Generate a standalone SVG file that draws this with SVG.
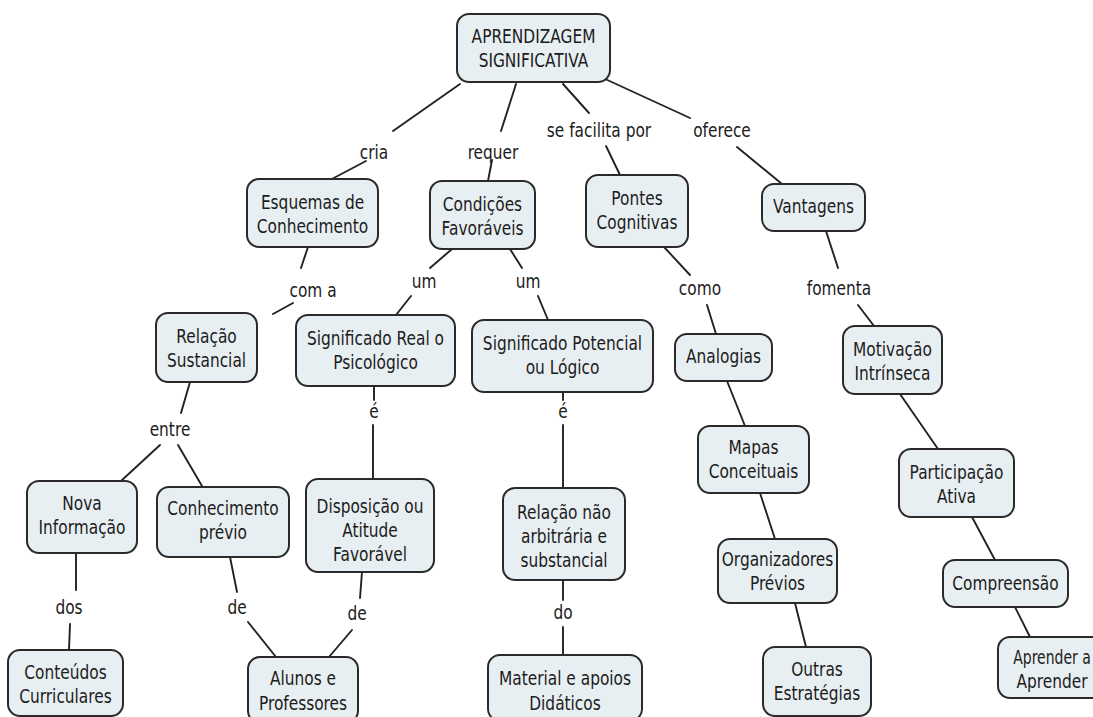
<svg xmlns="http://www.w3.org/2000/svg" width="1093" height="717" viewBox="0 0 1093 717">
  <style>
    .box { fill: #e8eff2; stroke: #2a2a2a; stroke-width: 2; }
    .t { font-family: "DejaVu Sans", Verdana, sans-serif; font-size: 20px; fill: #1c1c1c; text-anchor: middle; }
    .link { stroke: #222; stroke-width: 1.9; fill: none; stroke-linecap: round; }
  </style>
  <rect width="1093" height="717" fill="#ffffff"/>

  <g id="connectors">
    <!-- root branches -->
    <path class="link" d="M460,84 L393,131 M366,161 L330,180"/>
    <path class="link" d="M516,84 L501,131 M492,160 L488,181"/>
    <path class="link" d="M563,84 L589,113 M606,146 L620,175"/>
    <path class="link" d="M603,78 L690,118 M737,147 L782,184"/>
    <!-- esquemas -> relacao -->
    <path class="link" d="M308,247 L301,268 M293,303 L273,314"/>
    <!-- condicoes -> significados -->
    <path class="link" d="M452,249 L430,268 M411,296 L396,315"/>
    <path class="link" d="M510,249 L522,268 M538,296 L548,320"/>
    <!-- pontes -> analogias -->
    <path class="link" d="M664,247 L690,275 M707,305 L716,334"/>
    <!-- vantagens -> motivacao -->
    <path class="link" d="M826,231 L838,268 M858,305 L874,326"/>
    <!-- relacao -> entre -->
    <path class="link" d="M190,382 L181,413 M160,445 L121,481 M178,445 L202,486"/>
    <!-- significado real -> disposicao -->
    <path class="link" d="M374,386 L374,400 M373,425 L373,479"/>
    <!-- significado potencial -> relacao nao arbitraria -->
    <path class="link" d="M563,392 L563,400 M563,425 L563,488"/>
    <!-- nova informacao -> conteudos -->
    <path class="link" d="M76,553 L76,590 M70,624 L69,650"/>
    <!-- conhecimento previo / disposicao -> alunos -->
    <path class="link" d="M230,557 L237,592 M248,622 L276,657"/>
    <path class="link" d="M362,572 L360,598 M352,630 L329,657"/>
    <!-- relacao nao arbitraria -> material -->
    <path class="link" d="M563,580 L563,600 M563,627 L563,655"/>
    <!-- chains without labels -->
    <path class="link" d="M727,381 L745,426"/>
    <path class="link" d="M760,493 L775,539"/>
    <path class="link" d="M795,603 L806,647"/>
    <path class="link" d="M900,394 L938,449"/>
    <path class="link" d="M972,517 L995,560"/>
    <path class="link" d="M1015,607 L1030,637"/>
  </g>

  <g id="labels">
    <text class="t" transform="translate(374,0) scale(0.77 1)"><tspan x="0" y="159">cria</tspan></text>
    <text class="t" transform="translate(493,0) scale(0.77 1)"><tspan x="0" y="159">requer</tspan></text>
    <text class="t" transform="translate(599,0) scale(0.77 1)"><tspan x="0" y="137">se facilita por</tspan></text>
    <text class="t" transform="translate(722,0) scale(0.77 1)"><tspan x="0" y="137">oferece</tspan></text>
    <text class="t" transform="translate(313,0) scale(0.77 1)"><tspan x="0" y="297">com a</tspan></text>
    <text class="t" transform="translate(424,0) scale(0.77 1)"><tspan x="0" y="288">um</tspan></text>
    <text class="t" transform="translate(528,0) scale(0.77 1)"><tspan x="0" y="288">um</tspan></text>
    <text class="t" transform="translate(700,0) scale(0.77 1)"><tspan x="0" y="295">como</tspan></text>
    <text class="t" transform="translate(839,0) scale(0.77 1)"><tspan x="0" y="295">fomenta</tspan></text>
    <text class="t" transform="translate(170,0) scale(0.77 1)"><tspan x="0" y="436">entre</tspan></text>
    <text class="t" transform="translate(374,0) scale(0.77 1)"><tspan x="0" y="418">é</tspan></text>
    <text class="t" transform="translate(563,0) scale(0.77 1)"><tspan x="0" y="418">é</tspan></text>
    <text class="t" transform="translate(69,0) scale(0.77 1)"><tspan x="0" y="614">dos</tspan></text>
    <text class="t" transform="translate(237,0) scale(0.77 1)"><tspan x="0" y="614">de</tspan></text>
    <text class="t" transform="translate(357,0) scale(0.77 1)"><tspan x="0" y="620">de</tspan></text>
    <text class="t" transform="translate(563,0) scale(0.77 1)"><tspan x="0" y="619">do</tspan></text>
  </g>

  <g id="n-root">
    <rect class="box" x="457" y="14" width="153" height="68" rx="12"/>
    <text class="t" transform="translate(533.5,0) scale(0.77 1)"><tspan x="0" y="43">APRENDIZAGEM</tspan><tspan x="0" y="67">SIGNIFICATIVA</tspan></text>
  </g>
  <g id="n-esquemas">
    <rect class="box" x="247" y="179" width="131" height="68" rx="12"/>
    <text class="t" transform="translate(312.5,0) scale(0.77 1)"><tspan x="0" y="209">Esquemas de</tspan><tspan x="0" y="233">Conhecimento</tspan></text>
  </g>
  <g id="n-condicoes">
    <rect class="box" x="430" y="181" width="105" height="68" rx="12"/>
    <text class="t" transform="translate(482.5,0) scale(0.77 1)"><tspan x="0" y="211">Condições</tspan><tspan x="0" y="235">Favoráveis</tspan></text>
  </g>
  <g id="n-pontes">
    <rect class="box" x="586" y="175" width="102" height="72" rx="12"/>
    <text class="t" transform="translate(637,0) scale(0.77 1)"><tspan x="0" y="205">Pontes</tspan><tspan x="0" y="229">Cognitivas</tspan></text>
  </g>
  <g id="n-vantagens">
    <rect class="box" x="762" y="184" width="103" height="47" rx="12"/>
    <text class="t" transform="translate(813.5,0) scale(0.77 1)"><tspan x="0" y="213">Vantagens</tspan></text>
  </g>
  <g id="n-relacao">
    <rect class="box" x="156" y="313" width="101" height="69" rx="12"/>
    <text class="t" transform="translate(206.5,0) scale(0.77 1)"><tspan x="0" y="343">Relação</tspan><tspan x="0" y="367">Sustancial</tspan></text>
  </g>
  <g id="n-sig-real">
    <rect class="box" x="296" y="315" width="159" height="71" rx="12"/>
    <text class="t" transform="translate(375.5,0) scale(0.77 1)"><tspan x="0" y="345">Significado Real o</tspan><tspan x="0" y="369">Psicológico</tspan></text>
  </g>
  <g id="n-sig-pot">
    <rect class="box" x="472" y="320" width="181" height="72" rx="12"/>
    <text class="t" transform="translate(562.5,0) scale(0.77 1)"><tspan x="0" y="350">Significado Potencial</tspan><tspan x="0" y="374">ou Lógico</tspan></text>
  </g>
  <g id="n-analogias">
    <rect class="box" x="675" y="334" width="97" height="47" rx="12"/>
    <text class="t" transform="translate(723.5,0) scale(0.77 1)"><tspan x="0" y="363">Analogias</tspan></text>
  </g>
  <g id="n-motivacao">
    <rect class="box" x="843" y="326" width="99" height="68" rx="12"/>
    <text class="t" transform="translate(892.5,0) scale(0.77 1)"><tspan x="0" y="356">Motivação</tspan><tspan x="0" y="380">Intrínseca</tspan></text>
  </g>
  <g id="n-nova">
    <rect class="box" x="27" y="481" width="110" height="72" rx="12"/>
    <text class="t" transform="translate(82,0) scale(0.77 1)"><tspan x="0" y="510">Nova</tspan><tspan x="0" y="534">Informação</tspan></text>
  </g>
  <g id="n-conh-previo">
    <rect class="box" x="157" y="487" width="132" height="70" rx="12"/>
    <text class="t" transform="translate(223,0) scale(0.77 1)"><tspan x="0" y="515">Conhecimento</tspan><tspan x="0" y="539">prévio</tspan></text>
  </g>
  <g id="n-disposicao">
    <rect class="box" x="306" y="479" width="128" height="93" rx="12"/>
    <text class="t" transform="translate(370,0) scale(0.77 1)"><tspan x="0" y="513">Disposição ou</tspan><tspan x="0" y="537">Atitude</tspan><tspan x="0" y="561">Favorável</tspan></text>
  </g>
  <g id="n-rel-nao">
    <rect class="box" x="503" y="488" width="122" height="92" rx="12"/>
    <text class="t" transform="translate(564,0) scale(0.77 1)"><tspan x="0" y="519">Relação não</tspan><tspan x="0" y="543">arbitrária e</tspan><tspan x="0" y="567">substancial</tspan></text>
  </g>
  <g id="n-mapas">
    <rect class="box" x="698" y="426" width="111" height="67" rx="12"/>
    <text class="t" transform="translate(753.5,0) scale(0.77 1)"><tspan x="0" y="454">Mapas</tspan><tspan x="0" y="478">Conceituais</tspan></text>
  </g>
  <g id="n-organizadores">
    <rect class="box" x="718" y="539" width="119" height="64" rx="12"/>
    <text class="t" transform="translate(777.5,0) scale(0.77 1)"><tspan x="0" y="566">Organizadores</tspan><tspan x="0" y="590">Prévios</tspan></text>
  </g>
  <g id="n-outras">
    <rect class="box" x="763" y="647" width="108" height="69" rx="12"/>
    <text class="t" transform="translate(817,0) scale(0.77 1)"><tspan x="0" y="676">Outras</tspan><tspan x="0" y="700">Estratégias</tspan></text>
  </g>
  <g id="n-participacao">
    <rect class="box" x="899" y="449" width="115" height="68" rx="12"/>
    <text class="t" transform="translate(956.5,0) scale(0.77 1)"><tspan x="0" y="479">Participação</tspan><tspan x="0" y="503">Ativa</tspan></text>
  </g>
  <g id="n-compreensao">
    <rect class="box" x="943" y="560" width="125" height="47" rx="12"/>
    <text class="t" transform="translate(1005.5,0) scale(0.77 1)"><tspan x="0" y="590">Compreensão</tspan></text>
  </g>
  <g id="n-aprender">
    <rect class="box" x="998" y="637" width="112" height="61" rx="12"/>
    <text class="t" transform="translate(1052,0) scale(0.7 1)"><tspan x="0" y="664">Aprender a</tspan></text>
    <text class="t" transform="translate(1052,0) scale(0.77 1)"><tspan x="0" y="688">Aprender</tspan></text>
  </g>
  <g id="n-conteudos">
    <rect class="box" x="8" y="650" width="115" height="66" rx="12"/>
    <text class="t" transform="translate(65.5,0) scale(0.77 1)"><tspan x="0" y="679">Conteúdos</tspan><tspan x="0" y="703">Curriculares</tspan></text>
  </g>
  <g id="n-alunos">
    <rect class="box" x="248" y="657" width="110" height="66" rx="12"/>
    <text class="t" transform="translate(303,0) scale(0.77 1)"><tspan x="0" y="685">Alunos e</tspan><tspan x="0" y="710">Professores</tspan></text>
  </g>
  <g id="n-material">
    <rect class="box" x="488" y="655" width="154" height="66" rx="12"/>
    <text class="t" transform="translate(565,0) scale(0.77 1)"><tspan x="0" y="685">Material e apoios</tspan><tspan x="0" y="710">Didáticos</tspan></text>
  </g>
</svg>
